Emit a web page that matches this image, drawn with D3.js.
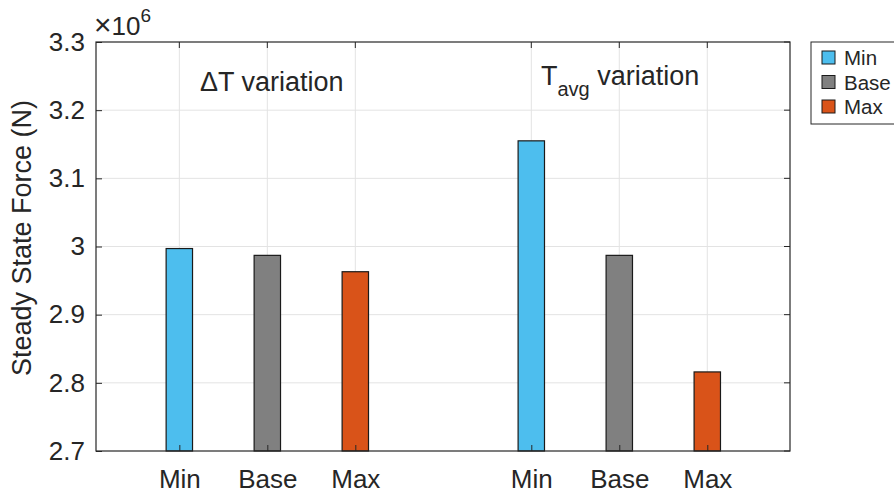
<!DOCTYPE html>
<html lang="en">
<head>
  <meta charset="UTF-8">
  <title>Steady State Force</title>
  <style>
    body { margin: 0; background: #fff; font-family: "Liberation Sans", Arial, sans-serif; }
    svg { display: block; }
    text { fill: #262626; }
  </style>
</head>
<body>
  <svg width="894" height="493"></svg>

  <script src="https://d3js.org/d3.v7.min.js"></script>
  <script>
    // positions of the bars on the x axis (two groups of three)
    const positions = [1, 2, 3, 5, 6, 7];
    const tickLabels = ["Min", "Base", "Max", "Min", "Base", "Max"];
    const series = ["Min", "Base", "Max", "Min", "Base", "Max"];
    const values = [2.997e6, 2.987e6, 2.963e6, 3.155e6, 2.987e6, 2.816e6];
    const yTicks = [2.7e6, 2.8e6, 2.9e6, 3.0e6, 3.1e6, 3.2e6, 3.3e6];
    const legendNames = ["Min", "Base", "Max"];
    const colors = { Min: "#4DBEEE", Base: "#808080", Max: "#D95319" };

    const svg = d3.select("svg");
    const pL = 96, pR = 790, pT = 42, pB = 451;

    const x = d3.scaleLinear().domain([0.053, 7.94]).range([pL, pR]);
    const y = d3.scaleLinear().domain([2.7e6, 3.3e6]).range([pB, pT]);
    const barW = x(0.3) - x(0);

    // grid
    const grid = svg.append("g").attr("stroke", "#e3e3e3").attr("stroke-width", 1);
    grid.selectAll("line.v").data(positions).join("line")
      .attr("x1", d => x(d)).attr("x2", d => x(d))
      .attr("y1", pT).attr("y2", pB);
    grid.selectAll("line.h").data(yTicks.slice(1, -1)).join("line")
      .attr("x1", pL).attr("x2", pR)
      .attr("y1", d => y(d)).attr("y2", d => y(d));

    // bars
    svg.append("g").selectAll("rect").data(values).join("rect")
      .attr("x", (d, i) => x(positions[i]) - barW / 2)
      .attr("y", d => y(d))
      .attr("width", barW)
      .attr("height", d => pB - y(d))
      .attr("fill", (d, i) => colors[series[i]])
      .attr("stroke", "#1a1a1a")
      .attr("stroke-width", 1.2);

    // axes
    const yAxis = svg.append("g").attr("transform", `translate(${pL},0)`)
      .call(d3.axisLeft(y).tickValues(yTicks).tickSize(-6).tickPadding(11)
        .tickFormat(d => d3.format("")(+(d / 1e6).toFixed(1))));
    const xAxis = svg.append("g").attr("transform", `translate(0,${pB})`)
      .call(d3.axisBottom(x).tickValues(positions).tickSize(-6).tickPadding(19)
        .tickFormat((d, i) => tickLabels[i]));
    [yAxis, xAxis].forEach(a => {
      a.select(".domain").remove();
      a.selectAll("line").attr("stroke", "#262626");
      a.selectAll("text").attr("font-size", 26).attr("fill", "#262626")
        .attr("font-family", "Liberation Sans, Arial, sans-serif");
    });

    // top and right mirrored ticks
    svg.append("g").selectAll("line").data(positions).join("line")
      .attr("x1", d => x(d)).attr("x2", d => x(d))
      .attr("y1", pT).attr("y2", pT + 6)
      .attr("stroke", "#262626");
    svg.append("g").selectAll("line").data(yTicks).join("line")
      .attr("x1", pR).attr("x2", pR - 6)
      .attr("y1", d => y(d)).attr("y2", d => y(d))
      .attr("stroke", "#262626");

    // box
    svg.append("rect")
      .attr("x", pL).attr("y", pT)
      .attr("width", pR - pL).attr("height", pB - pT)
      .attr("fill", "none").attr("stroke", "#262626").attr("stroke-width", 1.2);

    // exponent
    const ex = svg.append("text").attr("x", pL - 2).attr("y", 35).attr("font-size", 26);
    ex.append("tspan").text("×").attr("font-size", 30);
    ex.append("tspan").text("10");
    ex.append("tspan").text("6").attr("font-size", 19).attr("dy", -13);

    // y label
    svg.append("text")
      .attr("transform", `translate(31,238) rotate(-90)`)
      .attr("text-anchor", "middle")
      .attr("font-size", 27)
      .text("Steady State Force (N)");

    // annotations
    svg.append("text").attr("x", 200).attr("y", 91).attr("font-size", 27)
      .text("ΔT variation");
    const ta = svg.append("text").attr("x", 541).attr("y", 85).attr("font-size", 27);
    ta.append("tspan").text("T");
    ta.append("tspan").text("avg").attr("font-size", 20).attr("dy", 11);
    ta.append("tspan").text(" variation").attr("dy", -11);

    // legend
    const lg = svg.append("g");
    lg.append("rect").attr("x", 811).attr("y", 42).attr("width", 90).attr("height", 82)
      .attr("fill", "#fff").attr("stroke", "#262626").attr("stroke-width", 1);
    const item = lg.selectAll("g").data(legendNames).join("g")
      .attr("transform", (d, i) => `translate(822,${51 + i * 24.5})`);
    item.append("rect").attr("width", 13).attr("height", 13)
      .attr("fill", d => colors[d]).attr("stroke", "#1a1a1a");
    item.append("text").attr("x", 22).attr("y", 14).attr("font-size", 20.5).text(d => d);
  </script>
</body>
</html>
